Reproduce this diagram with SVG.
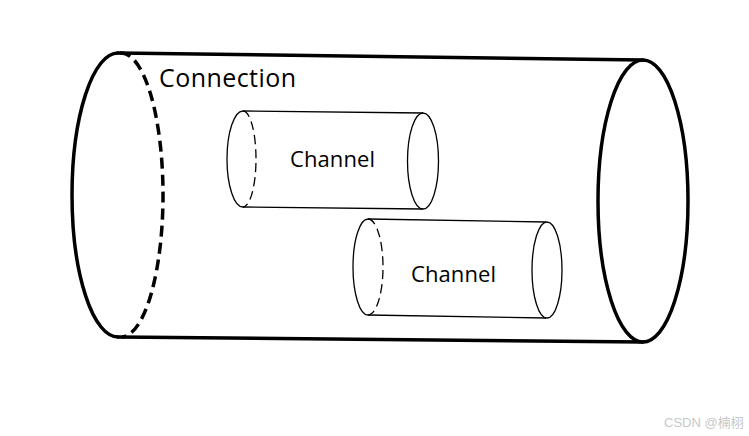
<svg xmlns="http://www.w3.org/2000/svg" width="749" height="436" viewBox="0 0 749 436">
<style>
.big{fill:none;stroke:#000;stroke-width:3.5;stroke-linecap:round}
.bigdash{fill:none;stroke:#000;stroke-width:3.5;stroke-dasharray:11 6}
.sm{fill:none;stroke:#000;stroke-width:1.3}
.smdash{fill:none;stroke:#000;stroke-width:1.3;stroke-dasharray:9 5}
.lbl{font-family:"Open Sans","DejaVu Sans",sans-serif;fill:#000}
.wm{font-family:"Liberation Sans","Noto Sans CJK SC",sans-serif;fill:#c8c8c8;font-size:13px}
</style>
<rect width="749" height="436" fill="#fff"/>
<g id="connection">
<path class="big" d="M118,53 L643,60"/>
<path class="big" d="M118,337 L643,342"/>
<path class="big" d="M118,53 A46,142 0 0 0 118,337"/>
<path class="bigdash" d="M120,53 A42,142 0 0 1 122,337"/>
<ellipse class="big" cx="643" cy="201" rx="45" ry="141"/>
<text class="lbl" x="159" y="87" font-size="25" textLength="137">Connection</text>
</g>
<g id="channel1">
<path class="sm" d="M243,111 L423,113"/>
<path class="sm" d="M243,207 L423,209"/>
<path class="sm" d="M243,111 A16,48 0 0 0 243,207"/>
<path class="smdash" d="M243,111 A13,48 0 0 1 243,207"/>
<ellipse class="sm" cx="423" cy="161" rx="15.5" ry="48"/>
<text class="lbl" x="290" y="167" font-size="22" textLength="85">Channel</text>
</g>
<g id="channel2">
<path class="sm" d="M368,219 L546,222"/>
<path class="sm" d="M368,315 L546,318"/>
<path class="sm" d="M368,219 A15,48 0 0 0 368,315"/>
<path class="smdash" d="M368,219 A15,48 0 0 1 368,315"/>
<ellipse class="sm" cx="547" cy="270" rx="15" ry="48"/>
<text class="lbl" x="411" y="282" font-size="22" textLength="85">Channel</text>
</g>
<g id="connectors"></g>
<text class="wm" x="664" y="427" font-size="14">CSDN @楠栩</text>
</svg>
